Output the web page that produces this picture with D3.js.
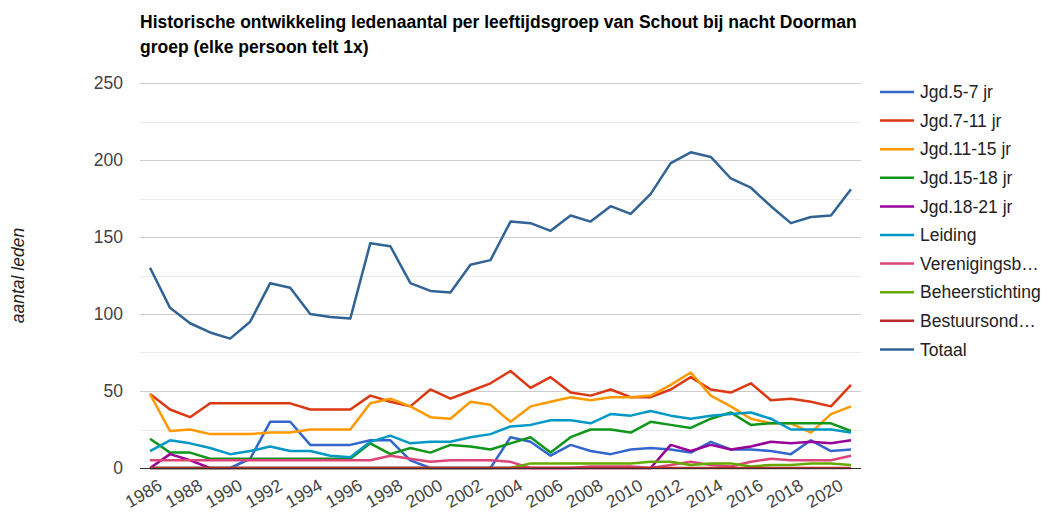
<!DOCTYPE html>
<meta charset="utf-8">
<title>Historische ontwikkeling ledenaantal</title>
<style type="text/css">
  body { margin: 0; background: #fff; }
  text { font-family: "Liberation Sans", Arial, sans-serif; }
</style>
<body>
<script src="https://d3js.org/d3.v7.min.js"></script>
<div id="chart"></div>
<script>
// data
var years = [1986,1987,1988,1989,1990,1991,1992,1993,1994,1995,1996,1997,1998,1999,2000,2001,2002,2003,
             2004,2005,2006,2007,2008,2009,2010,2011,2012,2013,2014,2015,2016,2017,2018,2019,2020,2021];
var jgd5_7   = [0,0,0,0,0,6,30,30,15,15,15,18,18,5,0,0,0,0,20,17,8,15,11,9,12,13,12,10,17,12,12,11,9,18,11,12];
var jgd7_11  = [48,38,33,42,42,42,42,42,38,38,38,47,43,40,51,45,50,55,63,52,59,49,47,51,46,46,51,59,51,49,55,44,45,43,40,54];
var jgd11_15 = [48,24,25,22,22,22,23,23,25,25,25,42,45,40,33,32,43,41,30,40,43,46,44,46,46,47,54,62,47,40,32,29,29,23,35,40];
var jgd15_18 = [19,10,10,6,6,6,6,6,6,6,6,16,9,13,10,15,14,12,16,20,10,20,25,25,23,30,28,26,32,36,28,29,29,29,29,24];
var jgd18_21 = [0,9,5,0,0,0,0,0,0,0,0,0,0,0,0,0,0,0,0,0,0,0,0,0,0,0,15,11,15,12,14,17,16,17,16,18];
var leiding  = [11,18,16,13,9,11,14,11,11,8,7,17,21,16,17,17,20,22,27,28,31,31,29,35,34,37,34,32,34,35,36,32,25,25,25,23];
var vereniging = [5,5,5,5,5,5,5,5,5,5,5,5,8,6,4,5,5,5,4,0,0,0,1,1,1,0,2,4,2,1,4,6,5,5,5,8];
var beheer   = [0,0,0,0,0,0,0,0,0,0,0,0,0,0,0,0,0,0,0,3,3,3,3,3,3,4,4,2,3,3,1,2,2,3,3,2];
var bestuur  = [0,0,0,0,0,0,0,0,0,0,0,0,0,0,0,0,0,0,0,0,0,0,0,0,0,0,0,0,0,0,0,0,0,0,0,0];
var totaal   = [130,104,94,88,84,95,120,117,100,98,97,146,144,120,115,114,132,135,160,159,154,164,160,170,165,178,198,205,202,188,182,170,159,163,164,181];

var seriesNames = ["Jgd.5-7 jr", "Jgd.7-11 jr", "Jgd.11-15 jr", "Jgd.15-18 jr", "Jgd.18-21 jr",
                   "Leiding", "Verenigingsbestuur", "Beheerstichting", "Bestuursondersteuning", "Totaal"];
var seriesValues = [jgd5_7, jgd7_11, jgd11_15, jgd15_18, jgd18_21, leiding, vereniging, beheer, bestuur, totaal];
var yTicks = [0, 50, 100, 150, 200, 250];
var xTicks = [1986,1988,1990,1992,1994,1996,1998,2000,2002,2004,2006,2008,2010,2012,2014,2016,2018,2020];

var colors = ["#3366cc","#dc3912","#ff9900","#109618","#990099","#0099c6","#dd4477","#66aa00","#b82e2e","#316395"];

// sizes (plot area in page pixels)
var W = 1041, H = 514;
var plotL = 140, plotR = 861, plotT = 83, plotB = 468;
var fs = 17.5;

var svg = d3.select("#chart")
  .append("svg")
    .attr("width", W)
    .attr("height", H);

// title (two lines)
svg.append("text")
  .attr("x", plotL).attr("y", 28)
  .attr("font-size", fs).attr("font-weight", "bold").attr("fill", "#000")
  .text("Historische ontwikkeling ledenaantal per leeftijdsgroep van Schout bij nacht Doorman");
svg.append("text")
  .attr("x", plotL).attr("y", 53)
  .attr("font-size", fs).attr("font-weight", "bold").attr("fill", "#000")
  .text("groep (elke persoon telt 1x)");

// scales
var x = d3.scaleLinear().domain([1985.5, 2021.5]).range([plotL, plotR]);
var y = d3.scaleLinear().domain([0, 250]).range([plotB, plotT]);

// gridlines, minor first
var minor = d3.range(25, 250, 50);
svg.append("g").selectAll("line").data(minor).enter().append("line")
  .attr("x1", plotL).attr("x2", plotR)
  .attr("y1", function(d) { return Math.round(y(d)) + 0.5; })
  .attr("y2", function(d) { return Math.round(y(d)) + 0.5; })
  .attr("stroke", "#ebebeb");
svg.append("g").selectAll("line").data(yTicks.filter(function(d) { return d > 0; })).enter().append("line")
  .attr("x1", plotL).attr("x2", plotR)
  .attr("y1", function(d) { return Math.round(y(d)) + 0.5; })
  .attr("y2", function(d) { return Math.round(y(d)) + 0.5; })
  .attr("stroke", "#cccccc");

// y axis labels
var yAxis = svg.append("g")
  .attr("transform", "translate(" + plotL + ",0)")
  .call(d3.axisLeft(y).tickValues(yTicks).tickSize(0).tickPadding(17));
yAxis.select(".domain").remove();
yAxis.selectAll("text")
  .attr("font-size", fs).attr("fill", "#444").attr("font-family", null);

// y axis title
svg.append("text")
  .attr("transform", "translate(24," + ((plotT + plotB) / 2) + ") rotate(-90)")
  .attr("text-anchor", "middle")
  .attr("font-size", fs).attr("font-style", "italic").attr("fill", "#222")
  .text("aantal leden");

// x axis labels, slanted
var xAxis = svg.append("g")
  .attr("transform", "translate(0," + plotB + ")")
  .call(d3.axisBottom(x).tickValues(xTicks).tickSize(0).tickFormat(d3.format("d")));
xAxis.select(".domain").remove();
xAxis.selectAll("text")
  .attr("font-size", fs).attr("fill", "#444").attr("font-family", null)
  .attr("text-anchor", "end")
  .attr("dy", null)
  .attr("y", 0)
  .attr("transform", "translate(13,21) rotate(-30)");

// lines
var line = d3.line()
  .x(function(d, i) { return x(years[i]); })
  .y(function(d) { return y(d); });

svg.append("g").selectAll("path").data(seriesValues).enter().append("path")
  .attr("d", line)
  .attr("fill", "none")
  .attr("stroke", function(d, i) { return colors[i]; })
  .attr("stroke-width", 2.5)
  .attr("stroke-linejoin", "round");

// baseline at 0
svg.append("line")
  .attr("x1", plotL).attr("x2", plotR)
  .attr("y1", Math.round(y(0)) + 0.5).attr("y2", Math.round(y(0)) + 0.5)
  .attr("stroke", "#333");

// legend
var legend = svg.append("g").selectAll("g").data(seriesNames).enter().append("g")
  .attr("transform", function(d, i) { return "translate(880," + (92 + i * 28.6) + ")"; });
legend.append("line")
  .attr("x1", 0).attr("x2", 34)
  .attr("stroke", function(d, i) { return colors[i]; })
  .attr("stroke-width", 2.5);
legend.append("text")
  .attr("x", 40).attr("dy", "0.35em")
  .attr("font-size", fs).attr("fill", "#222")
  .text(function(d) { return d; })
  .each(function(d) {
    // shorten names that run past the edge
    var t = d3.select(this), s = d;
    if (this.getComputedTextLength() <= 122) return;
    while (s.length > 1) {
      s = s.slice(0, -1);
      t.text(s + "\u2026");
      if (this.getComputedTextLength() <= 121) break;
    }
  });
</script>
</body>
